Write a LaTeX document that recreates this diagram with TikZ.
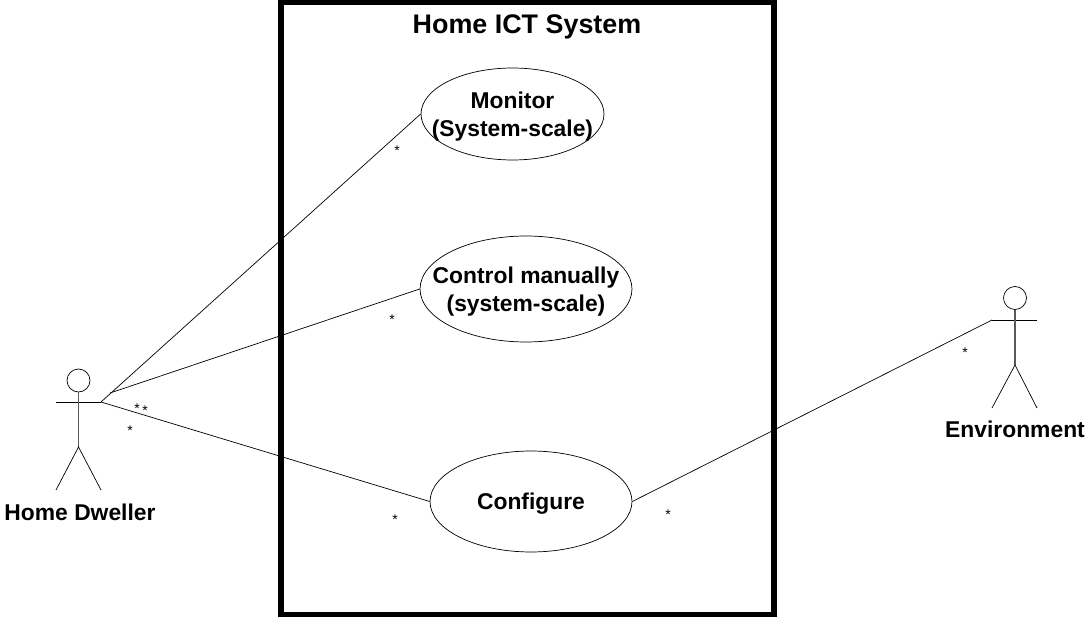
\documentclass[tikz,border=0pt]{standalone}
\usepackage{fontspec}
\setmainfont{Liberation Sans}
\usetikzlibrary{shapes.geometric}
\tikzset{
usecase/.style={draw,ellipse,inner sep=0pt},
boldtext/.style={font=\fontsize{13}{16}\selectfont\bfseries,inner sep=0pt,align=center},
mult/.style={font=\fontsize{8}{9}\selectfont,inner sep=0pt},
actorhead/.style={draw,circle,minimum size=0.46cm,inner sep=0pt},
actorbody/.style={line width=0.9pt,black!65}
}

\begin{document}
\begin{tikzpicture}[x=0.02cm,y=-0.02cm]

\useasboundingbox (0,0) rectangle (1085,618);
\draw[line width=3.2pt] (281,2.5) rectangle (774,614.5);
\node[boldtext,font=\fontsize{15.3}{18}\selectfont\bfseries] (title) at (527,27) {Home ICT System};

\node[usecase,minimum width=3.66cm,minimum height=1.84cm] (monitor) at (512.5,114) {};
\node[boldtext] (monitortext) at (512.5,117) {Monitor\\(System-scale)};
\node[usecase,minimum width=4.24cm,minimum height=2.12cm] (control) at (526,289) {};
\node[boldtext] (controltext) at (526,292) {Control manually\\(system-scale)};
\node[usecase,minimum width=4.04cm,minimum height=2.02cm] (configure) at (531,501.5) {};
\node[boldtext] (configuretext) at (531,503.5) {Configure};

% left actor
\node[actorhead] (dwellerhead) at (78.5,380.5) {};
\coordinate (dwellerl) at (56,402);
\coordinate (dwellerr) at (101,402);
\coordinate (dwellerhip) at (78.5,447);
\coordinate (dwellerfork) at (110,393);
\draw (dwellerl) -- (dwellerr);
\draw[actorbody] (dwellerhead.south) -- (dwellerhip);
\draw (56,490) -- (dwellerhip) -- (101,490);
\node[boldtext] (dweller) at (80,512) {Home Dweller};

% right actor
\node[actorhead] (envhead) at (1015,298) {};
\coordinate (envl) at (992,320);
\coordinate (envr) at (1037,320);
\coordinate (envhip) at (1015,365);
\draw (envl) -- (envr);
\draw[actorbody] (envhead.south) -- (envhip);
\draw (992,408) -- (envhip) -- (1037,408);
\node[boldtext] (env) at (1015,429) {Environment};

\draw (dwellerr) -- (monitor.west);
\draw (dwellerfork) -- (control.west);
\draw (dwellerr) -- (configure.west);
\draw (configure.east) -- (envl);

\node[mult] (m1) at (397,151) {*};
\node[mult] (m2) at (392,320) {*};
\node[mult] (m3) at (137,409) {*};
\node[mult] (m4) at (145,411) {*};
\node[mult] (m5) at (130,431) {*};
\node[mult] (m6) at (395,520) {*};
\node[mult] (m7) at (668,515) {*};
\node[mult] (m8) at (965,353) {*};

\end{tikzpicture}
\end{document}
